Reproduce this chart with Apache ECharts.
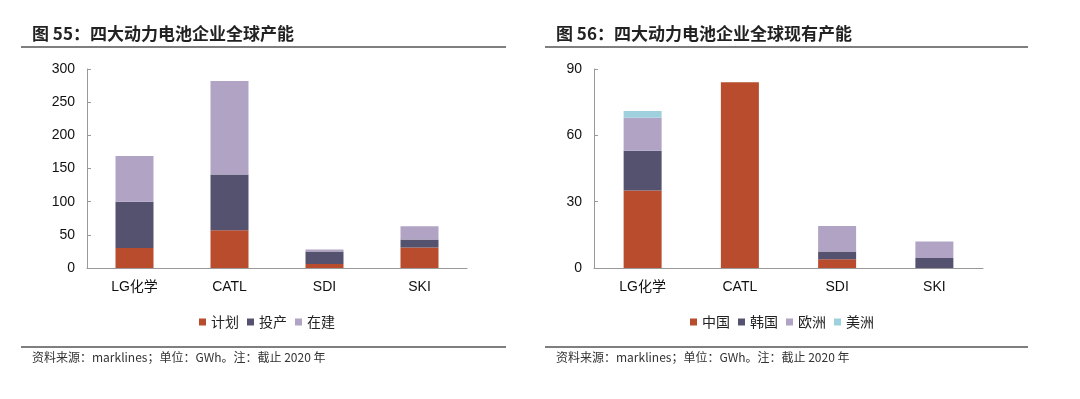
<!DOCTYPE html>
<html>
<head>
<meta charset="utf-8">
<script src="https://cdn.jsdelivr.net/npm/echarts@6/dist/echarts.min.js"></script>
<style>
  html, body { margin: 0; padding: 0; background: #fff; }
  #main { width: 1080px; height: 399px; }
</style>
</head>
<body>
<div id="main"></div>
<script>
const companies = ['LG化学', 'CATL', 'SDI', 'SKI'];

// 图55 全球产能 (GWh)
const plan = [30, 57, 6, 31];      // 计划
const produce = [70, 84, 19, 12];  // 投产
const building = [69, 141, 3, 20]; // 在建
const leftTicks = [0, 50, 100, 150, 200, 250, 300];

// 图56 全球现有产能 (GWh)
const china = [35, 84, 4, 0];       // 中国
const korea = [18, 0, 3.5, 4.5];    // 韩国
const europe = [15, 0, 11.5, 7.5];  // 欧洲
const america = [3, 0, 0, 0];       // 美洲
const rightTicks = [0, 30, 60, 90];

const RED = '#B84C2D', NAVY = '#55526F', LILAC = '#B1A3C4', SKY = '#9FD0DE';
const FONT = '"Liberation Sans", "Noto Sans CJK SC", sans-serif';
const CJK = '"Noto Sans CJK SC", sans-serif';

const chart = echarts.init(document.getElementById('main'));

function xAxisFor(idx) {
    return {
        type: 'category', gridIndex: idx, data: companies,
        axisLine: {lineStyle: {color: '#999', width: 1}},
        axisTick: {inside: true, length: 4, lineStyle: {color: '#999'}},
        axisLabel: {color: '#111', fontSize: 14, margin: 12, fontFamily: FONT}
    };
}

function yAxisFor(idx, ticks) {
    return {
        type: 'value', gridIndex: idx,
        min: ticks[0], max: ticks[ticks.length - 1], interval: ticks[1] - ticks[0],
        splitLine: {show: false},
        axisLine: {show: true, lineStyle: {color: '#999', width: 1}},
        axisTick: {show: true, inside: true, length: 4, lineStyle: {color: '#999'}},
        axisLabel: {color: '#111', fontSize: 14, margin: 12, fontFamily: FONT}
    };
}

function bar(name, data, color, idx) {
    return {
        name: name, type: 'bar', stack: 's' + idx, data: data,
        xAxisIndex: idx, yAxisIndex: idx, barWidth: 38,
        itemStyle: {color: color}
    };
}

const legendText = {fontSize: 14, color: '#222', fontFamily: CJK};
const titleText = {fontSize: 17, fontWeight: 'bold', color: '#222', fontFamily: CJK};
const noteText = {fontSize: 12, fontWeight: 'normal', color: '#333', fontFamily: CJK};
const note = '资料来源：marklines；单位：GWh。注：截止 2020 年';

const option = {
    animation: false,
    color: [RED, NAVY, LILAC, SKY],
    title: [
        {text: '图 55：四大动力电池企业全球产能', left: 32, top: 25, padding: 0, textStyle: titleText},
        {text: '图 56：四大动力电池企业全球现有产能', left: 556, top: 25, padding: 0, textStyle: titleText},
        {text: note, left: 32, top: 351, padding: 0, textStyle: noteText},
        {text: note, left: 556, top: 351, padding: 0, textStyle: noteText}
    ],
    legend: [
        {data: ['计划', '投产', '在建'], left: 199, top: 315, padding: 0, itemWidth: 7, itemHeight: 7,
         itemGap: 8, icon: 'rect', textStyle: legendText},
        {data: ['中国', '韩国', '欧洲', '美洲'], left: 690, top: 315, padding: 0, itemWidth: 7, itemHeight: 7,
         itemGap: 8, icon: 'rect', textStyle: legendText}
    ],
    grid: [
        {left: 87, top: 69, width: 380, height: 199},
        {left: 594, top: 69, width: 389, height: 199}
    ],
    xAxis: [xAxisFor(0), xAxisFor(1)],
    yAxis: [yAxisFor(0, leftTicks), yAxisFor(1, rightTicks)],
    series: [
        bar('计划', plan, RED, 0),
        bar('投产', produce, NAVY, 0),
        bar('在建', building, LILAC, 0),
        bar('中国', china, RED, 1),
        bar('韩国', korea, NAVY, 1),
        bar('欧洲', europe, LILAC, 1),
        bar('美洲', america, SKY, 1)
    ],
    graphic: [
        {type: 'line', shape: {x1: 21, y1: 47, x2: 506, y2: 47}, style: {stroke: '#555', lineWidth: 1.5}},
        {type: 'line', shape: {x1: 545, y1: 47, x2: 1028, y2: 47}, style: {stroke: '#555', lineWidth: 1.5}},
        {type: 'line', shape: {x1: 21, y1: 347, x2: 506, y2: 347}, style: {stroke: '#555', lineWidth: 1.5}},
        {type: 'line', shape: {x1: 545, y1: 347, x2: 1028, y2: 347}, style: {stroke: '#555', lineWidth: 1.5}}
    ]
};

chart.setOption(option);
</script>
</body>
</html>
